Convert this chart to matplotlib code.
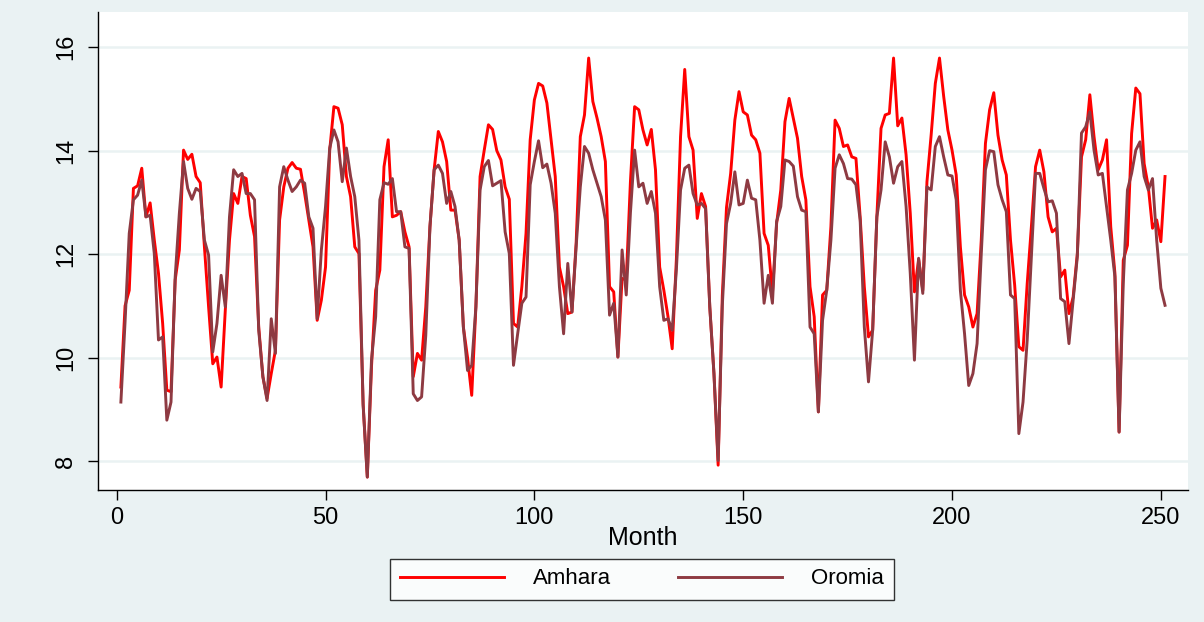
import matplotlib
matplotlib.use("Agg")
import matplotlib.pyplot as plt
from matplotlib.lines import Line2D

amhara = [
    9.43, 11.0, 11.3, 13.27, 13.32, 13.66, 12.72, 12.99, 12.27, 11.63, 10.66, 9.37, 9.34, 11.5, 12.08,
    14.01, 13.83, 13.93, 13.5, 13.38, 12.14, 10.98, 9.88, 10.01, 9.43, 10.92, 12.27, 13.17, 12.98,
    13.5, 13.46, 12.75, 12.34, 10.59, 9.63, 9.21, 9.69, 10.14, 12.66, 13.3, 13.66, 13.77, 13.66, 13.64,
    13.17, 12.66, 12.14, 10.72, 11.11, 11.75, 14.01, 14.85, 14.82, 14.5, 13.5, 13.11, 12.14, 12.01, 9.1, 7.69,
    9.82, 11.30, 11.69, 13.69, 14.21, 12.72, 12.75, 12.82, 12.43, 12.14, 9.63, 10.08, 9.95, 10.98, 12.53,
    13.63, 14.37, 14.17, 13.79, 12.85, 12.85, 12.27, 10.59, 10.0, 9.27, 10.98, 13.5, 14.01, 14.5, 14.41, 14.0,
    13.82, 13.3, 13.06, 10.66, 10.59, 11.37, 12.4, 14.21, 14.98, 15.3, 15.25, 14.92, 14.21, 13.5, 11.75,
    11.37, 10.85, 10.88, 12.21, 14.27, 14.69, 15.79, 14.95, 14.63, 14.27, 13.79, 11.37, 11.27, 10.01, 11.53,
    11.5, 13.4,
    14.85, 14.79, 14.4, 14.11, 14.41, 13.63, 11.75, 11.3, 10.79, 10.17, 11.9, 14.27, 15.57, 14.27, 14.01,
    12.69, 13.17, 12.92, 10.98, 9.69, 7.92, 11.2, 12.9, 13.56, 14.59, 15.14, 14.75, 14.69, 14.3, 14.21, 13.95,
    12.4, 12.17, 11.24, 12.59, 13.24, 14.56, 15.01, 14.63, 14.24, 13.5, 13.05, 11.37, 10.79, 8.95, 11.21,
    11.3, 12.53, 14.59, 14.43, 14.08, 14.11, 13.88, 13.85, 12.72, 11.37, 10.4, 10.53, 12.72, 14.43, 14.69, 14.72,
    15.79, 14.48, 14.63, 13.92, 12.79, 11.27, 11.9, 11.3, 13.4, 14.3, 15.3, 15.79, 15.05, 14.4, 14.01,
    13.53, 12.14, 11.21, 10.98, 10.59, 10.85, 12.27, 14.14, 14.79, 15.12, 14.3, 13.82, 13.53, 12.27, 11.4, 10.21,
    10.14, 11.43, 12.53, 13.69, 14.01, 13.59, 12.72, 12.43, 12.5, 11.56, 11.69, 10.85, 11.17, 12.01, 13.88,
    14.21, 15.08, 14.27, 13.63, 13.82, 14.21, 12.53, 11.63, 8.56, 11.88, 12.17, 14.33, 15.21, 15.1, 13.75,
    13.3, 12.5, 12.66, 12.24, 13.5,
]

oromia = [
    9.14, 10.69, 12.4, 13.05, 13.14, 13.43, 12.72, 12.75, 12.01, 10.34, 10.4, 8.79, 9.14, 11.56, 12.79,
    13.79, 13.27, 13.06, 13.27, 13.21, 12.27, 11.98, 10.11, 10.66, 11.59, 10.98, 12.72, 13.63, 13.5,
    13.56, 13.17, 13.17, 13.05, 10.53, 9.63, 9.17, 10.75, 10.08, 13.3, 13.69, 13.43, 13.21, 13.3, 13.43,
    13.37, 12.72, 12.5, 10.75, 12.08, 12.92, 14.05, 14.4, 14.17, 13.4, 14.05, 13.5, 13.11, 12.27, 9.08, 7.69,
    9.95, 10.79, 13.05, 13.38, 13.35, 13.46, 12.82, 12.82, 12.14, 12.11, 9.3, 9.17, 9.24, 10.43, 12.53,
    13.63, 13.72, 13.56, 12.98, 13.21, 12.92, 12.27, 10.59, 9.75, 9.85, 10.98, 13.24, 13.69, 13.81, 13.32, 13.37,
    13.42, 12.43, 12.01, 9.85, 10.46, 11.05, 11.17, 13.34, 13.79, 14.19, 13.67, 13.74, 13.37, 12.79, 11.37,
    10.46, 11.82, 10.88, 12.14, 13.3, 14.08, 13.95, 13.63, 13.37, 13.11, 12.66, 10.82, 11.05, 10.01, 12.08,
    11.21, 12.8,
    14.01, 13.3, 13.37, 12.98, 13.21, 12.79, 11.37, 10.72, 10.75, 10.53, 11.7, 13.24, 13.66, 13.72, 13.17,
    12.95, 12.98, 12.88, 10.98, 9.69, 8.01, 11.0, 12.59, 12.98, 13.59, 12.95, 12.98, 13.43, 13.08, 13.05, 12.27,
    11.05, 11.59, 11.05, 12.63, 12.92, 13.82, 13.79, 13.7, 13.11, 12.85, 12.82, 10.59, 10.46, 8.95, 10.72,
    11.3, 12.27, 13.66, 13.92, 13.75, 13.46, 13.45, 13.34, 12.66, 10.59, 9.53, 10.53, 12.72, 13.24, 14.17, 13.88,
    13.37, 13.69, 13.79, 12.92, 11.63, 9.95, 11.92, 11.24, 13.3, 13.24, 14.08, 14.27, 13.88, 13.53, 13.51,
    13.05, 11.3, 10.46, 9.46, 9.69, 10.27, 12.0, 13.63, 14.0, 13.98, 13.34, 13.05, 12.82, 11.21, 11.14, 8.53,
    9.14, 10.34, 11.95, 13.56, 13.56, 13.27, 13.01, 13.03, 12.79, 11.14, 11.08, 10.27, 11.11, 11.95, 14.34,
    14.46, 14.75, 14.01, 13.53, 13.56, 12.92, 12.27, 11.56, 8.56, 11.43, 13.24, 13.56, 14.01, 14.17, 13.5,
    13.24, 13.46, 12.27, 11.34, 11.01,
]

months = list(range(1, len(amhara) + 1))
months_o = list(range(1, len(oromia) + 1))
xticks = [0, 50, 100, 150, 200, 250]
yticks = [8, 10, 12, 14, 16]

bg = "#EAF2F3"
red = "#FF0000"
maroon = "#8E3A42"
plt.rcParams["font.family"] = ["Liberation Sans", "DejaVu Sans"]

fig = plt.figure(figsize=(12.04, 6.22), dpi=100, facecolor=bg)
ax = fig.add_axes([98 / 1204, 1 - 490 / 622, (1188 - 98) / 1204, (490 - 12) / 622])
ax.set_facecolor("white")

for y in yticks:
    ax.axhline(y, color=bg, lw=1.8, zorder=0)

ax.plot(months, amhara, color=red, lw=2.1, label="Amhara", zorder=2)
ax.plot(months_o, oromia, color=maroon, lw=2.1, label="Oromia", zorder=3)

ax.set_xlim(-4.48, 256.5)
ax.set_ylim(7.44, 16.68)
ax.set_xticks(xticks)
ax.set_yticks(yticks)
ax.set_xticklabels([str(v) for v in xticks], fontsize=17)
ax.set_yticklabels([str(v) for v in yticks], fontsize=17, rotation=90, va="center")
ax.tick_params(axis="both", direction="out", length=7, width=1, color="black", pad=5)
ax.tick_params(axis="y", pad=8)
ax.set_xlabel("Month", fontsize=18, labelpad=-2)

for s in ["top", "right"]:
    ax.spines[s].set_visible(False)
ax.spines["left"].set_color("black")
ax.spines["bottom"].set_color("black")
ax.spines["left"].set_linewidth(1)
ax.spines["bottom"].set_linewidth(1)

handles = [Line2D([], [], color=red, lw=2.1), Line2D([], [], color=maroon, lw=2.1)]
leg = fig.legend(handles, ["Amhara", "Oromia"], loc="center", bbox_to_anchor=(642 / 1204, 1 - 579 / 622),
                 ncol=2, fontsize=16, frameon=True, fancybox=False, edgecolor="black",
                 handlelength=4.7, columnspacing=3.0, handletextpad=1.3, borderpad=0.45,
                 borderaxespad=0)
leg.get_frame().set_linewidth(1)
leg.get_frame().set_facecolor("white")

fig.savefig("out.png", dpi=100, facecolor=bg)
